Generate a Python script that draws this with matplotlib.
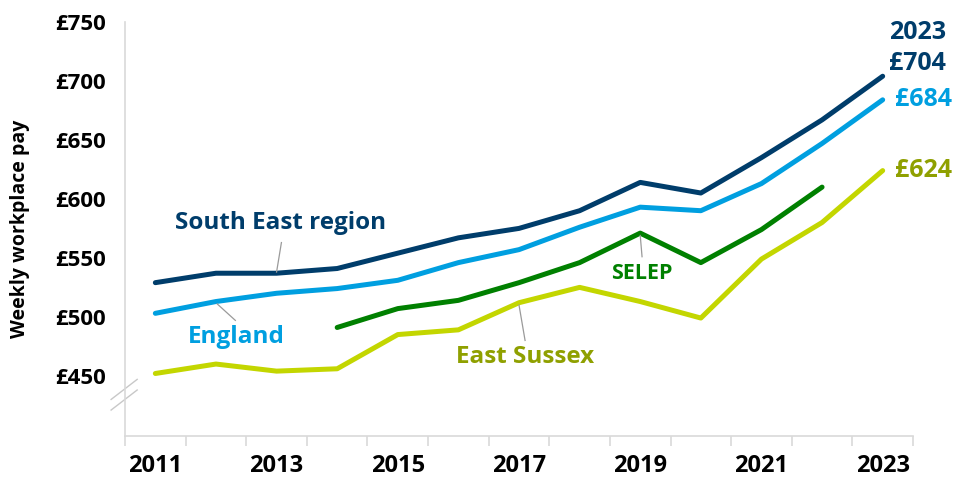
import matplotlib.pyplot as plt
import numpy as np

years = list(range(2011, 2024))
south_east = [529, 537, 537, 541, 554, 567, 575, 590, 614, 605, 635, 667, 704]
england = [503, 513, 520, 524, 531, 546, 557, 576, 593, 590, 613, 647, 684]
selep_years = list(range(2014, 2023))
selep = [491, 507, 514, 529, 546, 571, 546, 574, 610]
east_sussex = [452, 460, 454, 456, 485, 489, 512, 525, 513, 499, 549, 580, 624]
tick_labels = [str(y) for y in years[::2]]
y_ticks = [450, 500, 550, 600, 650, 700, 750]

navy = "#003d6b"
blue = "#009fe0"
green = "#008000"
lime = "#c3d600"
olive = "#8fa000"
grey = "#d9d9d9"

plt.rcParams['font.family'] = ['Open Sans', 'DejaVu Sans']

fig = plt.figure(figsize=(9.56, 4.83), dpi=100)
ax = fig.add_axes([0.1308, 0.0973, 0.955 - 0.1308, 0.9545 - 0.0973])

x = np.arange(len(years))
xs = np.array([years.index(y) for y in selep_years])

ax.plot(x, south_east, color=navy, lw=3.6, solid_capstyle='round', solid_joinstyle='round')
ax.plot(x, england, color=blue, lw=3.6, solid_capstyle='round', solid_joinstyle='round')
ax.plot(xs, selep, color=green, lw=3.6, solid_capstyle='round', solid_joinstyle='round')
ax.plot(x, east_sussex, color=lime, lw=3.6, solid_capstyle='round', solid_joinstyle='round')

ax.set_xlim(-0.5, len(years) - 0.5)
ax.set_ylim(399, 750)
ax.set_yticks(y_ticks)
ax.set_yticklabels([f"£{v}" for v in y_ticks], fontsize=16, fontweight='bold')
ax.tick_params(axis='y', length=0, pad=14)
ax.set_xticks(x[::2])
ax.set_xticklabels(tick_labels, fontsize=17, fontweight='bold')
ax.set_xticks(np.arange(-0.5, len(years)), minor=True)
ax.tick_params(axis='x', which='major', length=0, pad=13)
ax.tick_params(axis='x', which='minor', length=7, color=grey, width=1.2)

for s in ['top', 'right']:
    ax.spines[s].set_visible(False)
for s in ['left', 'bottom']:
    ax.spines[s].set_color(grey)
    ax.spines[s].set_linewidth(1.2)

ax.set_ylabel("Weekly workplace pay", fontsize=14, fontweight='bold', labelpad=18)

# axis break marks
for dy in [0, -9]:
    ax.plot([-0.73, -0.3], [430 + dy, 447 + dy], color='#c8c8c8', lw=1, clip_on=False)

# series labels with leader lines
lead = dict(color='#9a9a9a', lw=0.9)
ax.plot([2.08, 2.0], [563, 538], **lead)
ax.text(2.06, 580, "South East region", color=navy, fontsize=17.5, fontweight='bold', ha='center', va='center')
ax.plot([1.02, 1.32], [511, 497], **lead)
ax.text(1.34, 483, "England", color=blue, fontsize=17.5, fontweight='bold', ha='center', va='center')
ax.plot([8.0, 8.03], [569, 551], **lead)
ax.text(8.03, 537, "SELEP", color=green, fontsize=15.5, fontweight='bold', ha='center', va='center')
ax.plot([6.0, 6.1], [510, 480], **lead)
ax.text(6.1, 466, "East Sussex", color=olive, fontsize=17.5, fontweight='bold', ha='center', va='center')

# end labels
ax.text(12.1, 741, "2023", color=navy, fontsize=18, fontweight='bold', ha='left', va='center', clip_on=False)
ax.text(12.1, 715, f"£{south_east[-1]}", color=navy, fontsize=18, fontweight='bold', ha='left', va='center', clip_on=False)
ax.text(12.2, england[-1], f"£{england[-1]}", color=blue, fontsize=18, fontweight='bold', ha='left', va='center', clip_on=False)
ax.text(12.2, east_sussex[-1], f"£{east_sussex[-1]}", color=olive, fontsize=18, fontweight='bold', ha='left', va='center', clip_on=False)

fig.savefig("out.png", dpi=100)
